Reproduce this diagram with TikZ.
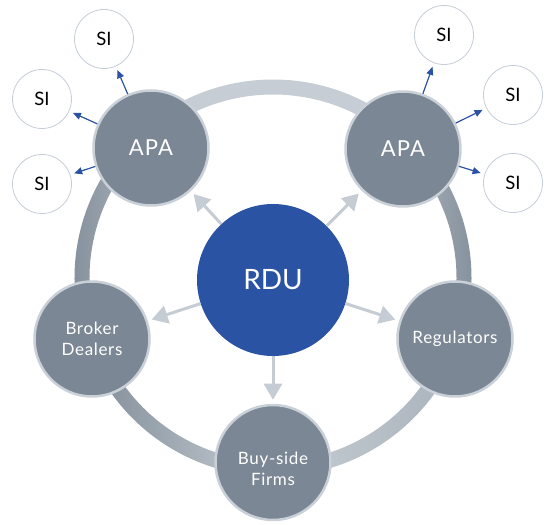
\documentclass[tikz,border=0pt]{standalone}
\usepackage{fontspec}
\setmainfont{Lato}
\usetikzlibrary{arrows.meta}

\definecolor{rdublue}{HTML}{2B53A3}
\definecolor{nodegray}{HTML}{7B8794}
\definecolor{nodeedge}{HTML}{C9D0D7}
\definecolor{siedge}{HTML}{C5CDD8}
\definecolor{arrowgray}{HTML}{C5CCD3}
\definecolor{ringlight}{HTML}{C6CDD4}
\definecolor{ringmid}{HTML}{A9B2BB}
\definecolor{ringdark}{HTML}{808C98}

\begin{document}
\begin{tikzpicture}[x=1pt, y=1pt,
  member/.style={shape=circle, draw=nodeedge, line width=2.5pt, fill=nodegray,
    minimum size=115pt, inner sep=0pt, text=white, align=center,
    font=\fontsize{17}{21.5}\selectfont\addfontfeature{LetterSpace=4}},
  si/.style={shape=circle, draw=siedge, line width=0.8pt, fill=white,
    minimum size=59pt, inner sep=0pt, font=\fontsize{18.5}{18.5}\selectfont},
  feed/.style={draw=arrowgray, line width=3pt, shorten >=4pt,
    -{Triangle[length=16pt, width=18pt]}},
  report/.style={draw=rdublue, line width=1.2pt, shorten >=4pt,
    -{Triangle[length=8pt, width=7pt]}}]
\useasboundingbox (0,0) rectangle (544,525);

% ring joining the members
\begin{scope}[shift={(273,247)}]
\foreach \a/\b/\cl/\cr in {45/133/ringlight/ringlight, 133/199/ringdark/ringmid,
    199/270/ringdark/ringlight, 270/342/ringlight/ringmid, 342/405/ringmid/ringdark}
  \shade[left color=\cl, right color=\cr]
    (\a:198.5) arc[start angle=\a, end angle=\b, radius=198.5]
    -- (\b:183.5) arc[start angle=\b, end angle=\a, radius=183.5] -- cycle;
\end{scope}

\node [shape=circle, fill=rdublue, minimum size=152pt, text=white,
  font=\fontsize{28}{28}\selectfont] (RDU) at (273,245) {RDU};

\node [member, font=\fontsize{22}{22}\selectfont\addfontfeature{LetterSpace=5}] (APA1) at (151,377) {APA};
\node [member, font=\fontsize{22}{22}\selectfont\addfontfeature{LetterSpace=5}] (APA2) at (403,376) {APA};
\node [member] (BD) at (92,186) {Broker\\Dealers};
\node [member] (REG) at (455,186) {Regulators};
\node [member] (BUY) at (273,62.5) {};
\node [text=white, align=center,
  font=\fontsize{17}{21.5}\selectfont\addfontfeature{LetterSpace=4}] (BUYtext) at (273,56) {Buy-side\\Firms};

\node [si] (SI1) at (104,486) {SI};
\node [si] (SI2) at (42,426) {SI};
\node [si] (SI3) at (42,341) {SI};
\node [si] (SI4) at (444,490) {SI};
\node [si] (SI5) at (513,430) {SI};
\node [si] (SI6) at (513,342) {SI};

\draw [feed] (RDU) -- (APA1);
\draw [feed] (RDU) -- (APA2);
\draw [feed] (RDU) -- (BD);
\draw [feed] (RDU) -- (REG);
\draw [feed] (RDU) -- (BUY);

\draw [report] (APA1) -- (SI1);
\draw [report] (APA1) -- (SI2);
\draw [report] (APA1) -- (SI3);
\draw [report] (APA2) -- (SI4);
\draw [report] (APA2) -- (SI5);
\draw [report] (APA2) -- (SI6);
\end{tikzpicture}
\end{document}
